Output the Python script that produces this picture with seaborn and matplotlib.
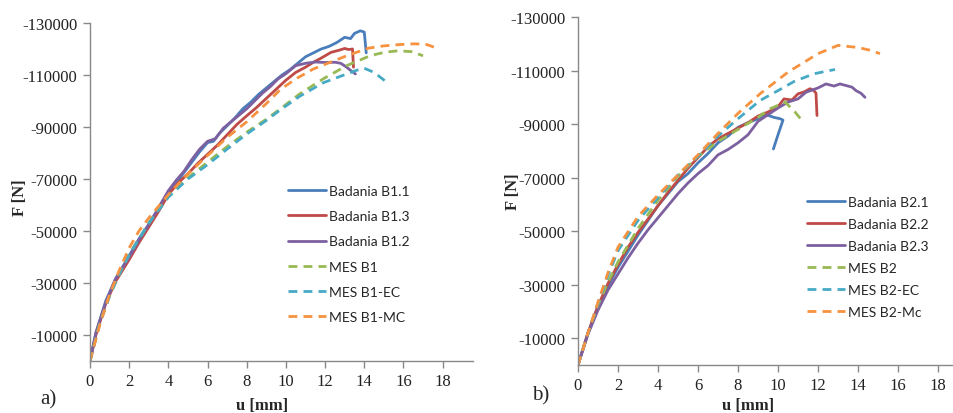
import matplotlib
matplotlib.use("Agg")
import matplotlib.pyplot as plt
import seaborn as sns

# ---- panel a) : B1 ----
b11_u = [0, 0.3, 0.8, 1.3, 2.0, 2.5, 3.0, 3.5, 4.0, 4.4, 4.8, 5.2, 5.6, 6.0, 6.3, 6.6, 7.0, 7.4, 7.8, 8.2,
         8.6, 9.0, 9.4, 9.8, 10.2, 10.6, 11.0, 11.4, 11.8, 12.2, 12.6, 13.0, 13.3, 13.5, 13.8, 14.0, 14.1]
b11_f = [0, -10500, -23000, -31500, -40500, -47000, -52500, -58500, -65000, -68500, -72500, -76500, -80500,
         -84000, -84500, -87500, -90500, -93500, -97000, -99500, -102500, -105000, -107500, -110000, -112000,
         -114500, -117000, -118500, -120000, -121000, -122500, -124500, -124000, -126000, -127000, -126500, -118500]

b13_u = [0, 0.3, 0.8, 1.3, 2.0, 2.5, 3.0, 3.5, 4.0, 4.5, 5.0, 5.5, 6.0, 6.5, 7.0, 7.5, 8.0, 8.5, 9.0, 9.5,
         10.0, 10.5, 11.0, 11.4, 11.8, 12.3, 12.7, 13.0, 13.2, 13.4, 13.45]
b13_f = [0, -10000, -22000, -30500, -39000, -45500, -51500, -57500, -64000, -68500, -72000, -76000, -79500,
         -83000, -87000, -91000, -94300, -97500, -101000, -104500, -108000, -111000, -113000, -114900, -116500,
         -118700, -119500, -120200, -119800, -120000, -113000]

b12_u = [0, 0.3, 0.8, 1.3, 2.0, 2.5, 3.0, 3.5, 4.0, 4.4, 4.8, 5.2, 5.6, 6.0, 6.4, 6.8, 7.2, 7.6, 8.0, 8.4,
         8.8, 9.2, 9.6, 10.0, 10.5, 11.0, 11.5, 12.0, 12.5, 12.8, 13.1, 13.35, 13.55]
b12_f = [0, -11000, -22500, -31500, -40000, -46500, -52500, -59000, -65500, -69500, -73000, -77500, -81500,
         -84500, -85500, -89500, -92000, -94500, -97000, -100000, -103000, -105500, -108500, -110500, -113600,
         -114500, -115000, -114800, -114900, -114500, -113000, -111500, -110400]

mes_b1_u = [0, 0.5, 1.0, 1.5, 2.0, 3.0, 4.0, 5.0, 6.0, 7.0, 8.0, 9.0, 9.7, 10.7, 11.9, 13.1, 14.3, 15.0, 15.7, 16.4, 17.0]
mes_b1_f = [0, -14500, -25000, -33500, -41000, -53000, -63500, -70500, -76500, -82500, -88000, -93000, -96900,
            -102700, -108500, -113600, -117400, -118700, -119300, -119000, -117400]

mes_b1_ec_u = [0, 0.5, 1.0, 1.5, 2.0, 3.0, 4.0, 5.0, 6.0, 7.0, 8.0, 9.0, 9.7, 10.7, 11.9, 13.1, 13.6, 14.0, 14.5, 15.05]
mes_b1_ec_f = [0, -14500, -25000, -33500, -41000, -53000, -63000, -70000, -75500, -81500, -87300, -92500, -96500,
               -101800, -107000, -110400, -111800, -112600, -111000, -107800]

mes_b1_mc_u = [0, 0.5, 1.0, 1.5, 2.0, 2.5, 3.0, 4.0, 5.0, 6.0, 7.0, 8.0, 9.0, 9.7, 10.5, 11.4, 12.3, 13.1,
               14.2, 15.0, 15.8, 16.6, 17.2, 17.6]
mes_b1_mc_f = [0, -14000, -25500, -35000, -43500, -50000, -55000, -64000, -72000, -79000, -86000, -92000, -99000,
               -104300, -108500, -112300, -115000, -117400, -120300, -121200, -121700, -122000, -121700, -120600]

# ---- panel b) : B2 ----
b21_u = [0, 0.5, 1.0, 1.5, 2.0, 2.5, 3.0, 3.5, 4.0, 4.5, 5.0, 5.5, 6.0, 6.5, 7.0, 7.5, 8.0, 8.5, 9.0, 9.4,
         9.8, 10.1, 10.25, 10.0, 9.77]
b21_f = [0, -12000, -22000, -29500, -36500, -42500, -48500, -54000, -59500, -64000, -68500, -71500, -75500,
         -79000, -83000, -85500, -88800, -90500, -92000, -93500, -92500, -92000, -91500, -86000, -80700]

b22_u = [0, 0.5, 1.0, 1.5, 2.0, 2.5, 3.0, 3.5, 4.0, 4.5, 5.0, 5.5, 6.0, 6.5, 7.0, 7.5, 8.0, 8.5, 9.0, 9.5,
         10.0, 10.3, 10.7, 11.0, 11.3, 11.6, 11.8, 11.9, 11.95]
b22_f = [0, -12000, -22000, -30500, -37500, -44000, -49500, -54500, -59500, -64500, -69000, -73500, -77500,
         -81500, -84500, -86500, -88500, -90500, -93000, -94500, -96500, -99400, -99000, -101300, -102000,
         -103200, -102500, -101500, -93200]

b23_u = [0, 0.5, 1.0, 1.5, 2.0, 2.5, 3.0, 3.5, 4.0, 4.5, 5.0, 5.5, 6.0, 6.5, 7.0, 7.5, 8.0, 8.5, 9.0, 9.5,
         10.0, 10.5, 11.0, 11.4, 12.0, 12.4, 12.8, 13.1, 13.4, 13.7, 13.9, 14.15, 14.35]
b23_f = [0, -11500, -20500, -28000, -34000, -40000, -45500, -50500, -55000, -59500, -64000, -68000, -71500,
         -74500, -78500, -80500, -83000, -86000, -91000, -93500, -96000, -98200, -99400, -101900, -103500,
         -105000, -104200, -105000, -104400, -103800, -102500, -101500, -100000]

mes_b2_u = [0, 0.5, 1.0, 1.5, 2.0, 3.0, 4.0, 5.0, 6.0, 7.0, 8.0, 9.0, 9.6, 10.35, 10.8, 11.2]
mes_b2_f = [0, -12000, -22500, -31000, -38500, -51000, -61500, -70500, -78000, -83500, -88000, -92500, -95700,
            -98200, -95000, -91300]

mes_b2_ec_u = [0, 0.5, 1.0, 1.5, 2.0, 3.0, 4.0, 5.0, 6.0, 7.0, 8.0, 9.1, 10.0, 10.8, 11.8, 12.85]
mes_b2_ec_f = [0, -12000, -23000, -33500, -42700, -54000, -62500, -71000, -78000, -85500, -92000, -98800,
               -102500, -105900, -108800, -110400]

mes_b2_mc_u = [0, 0.5, 1.0, 1.5, 2.0, 3.0, 4.0, 5.0, 6.0, 7.0, 8.0, 9.1, 10.5, 12.0, 13.0, 14.0, 14.6, 15.1]
mes_b2_mc_f = [0, -12000, -23500, -34500, -44000, -55500, -63500, -71000, -78500, -86500, -94000, -101300,
               -109400, -116300, -119400, -118600, -117600, -116300]

x_ticks = [0, 2, 4, 6, 8, 10, 12, 14, 16, 18]
y_ticks = [-10000, -30000, -50000, -70000, -90000, -110000, -130000]

colors = {"blue": "#4a7ebb", "red": "#be4b48", "purple": "#7d60a0",
          "green": "#98b954", "cyan": "#46aac5", "orange": "#f69240"}

panel_a = [
    ("Badania B1.1", b11_u, b11_f, "blue", False),
    ("Badania B1.3", b13_u, b13_f, "red", False),
    ("Badania B1.2", b12_u, b12_f, "purple", False),
    ("MES B1", mes_b1_u, mes_b1_f, "green", True),
    ("MES B1-EC", mes_b1_ec_u, mes_b1_ec_f, "cyan", True),
    ("MES B1-MC", mes_b1_mc_u, mes_b1_mc_f, "orange", True),
]
panel_b = [
    ("Badania B2.1", b21_u, b21_f, "blue", False),
    ("Badania B2.2", b22_u, b22_f, "red", False),
    ("Badania B2.3", b23_u, b23_f, "purple", False),
    ("MES B2", mes_b2_u, mes_b2_f, "green", True),
    ("MES B2-EC", mes_b2_ec_u, mes_b2_ec_f, "cyan", True),
    ("MES B2-Mc", mes_b2_mc_u, mes_b2_mc_f, "orange", True),
]

sns.set_theme(style="white")
plt.rcParams["axes.unicode_minus"] = False

fig = plt.figure(figsize=(9.54, 4.14), dpi=100)
W, H = 954, 414
# axes boxes in pixels: left, top, right, bottom
boxes = [(90, 24, 473, 362), (578, 18, 952, 366)]
xmax = [19.55, 18.7]
legend_anchor = [(288, 186), (807, 197)]
legend_spacing = [0.95, 0.72]
grey = "#898989"
serif = "Liberation Serif"

for i, (series, (l, t, r, b)) in enumerate(zip([panel_a, panel_b], boxes)):
    ax = fig.add_axes([l / W, 1 - b / H, (r - l) / W, (b - t) / H])
    for name, u, f, c, dashed in series:
        kw = {"linestyle": (0, (3.2, 2.2))} if dashed else {}
        sns.lineplot(x=u, y=f, ax=ax, color=colors[c], lw=2.0, label=name,
                     sort=False, estimator=None, **kw)
    ax.set_xlim(0, xmax[i])
    ax.set_ylim(0, -130000)
    ax.set_xticks(x_ticks)
    ax.set_xticklabels([str(v) for v in x_ticks])
    ax.set_yticks(y_ticks)
    ax.set_yticklabels([str(v) for v in y_ticks])
    for s in ["top", "right"]:
        ax.spines[s].set_visible(False)
    for s in ["left", "bottom"]:
        ax.spines[s].set_color(grey)
        ax.spines[s].set_linewidth(1.0)
    ax.tick_params(axis="both", which="major", direction="out", length=5, width=1,
                   color=grey, labelsize=12, labelcolor="#222222", pad=4)
    ax.tick_params(axis="x", bottom=True, pad=4)
    ax.tick_params(axis="y", left=True)
    for lab in ax.get_xticklabels() + ax.get_yticklabels():
        lab.set_fontfamily(serif)
    ax.set_xlabel("")
    ax.set_ylabel("")
    ax_x, ax_y = legend_anchor[i]
    ax.legend(loc="upper left", bbox_to_anchor=((ax_x - l) / (r - l), (b - ax_y) / (b - t)),
              frameon=False, borderpad=0, borderaxespad=0, handlelength=2.7,
              handletextpad=0.25, labelspacing=legend_spacing[i],
              prop={"family": "Lato", "size": 10})

# axis titles and panel letters
fig.text(20 / W, 1 - 198 / H, "F [N]", rotation=90, ha="center", va="center",
         fontsize=12, fontweight="bold", family=serif)
fig.text(513 / W, 1 - 192 / H, "F [N]", rotation=90, ha="center", va="center",
         fontsize=12, fontweight="bold", family=serif)
fig.text(262 / W, 1 - 406 / H, "u [mm]", ha="center", va="center",
         fontsize=12, fontweight="bold", family=serif)
fig.text(748 / W, 1 - 406 / H, "u [mm]", ha="center", va="center",
         fontsize=12, fontweight="bold", family=serif)
fig.text(48 / W, 1 - 400 / H, "a)", ha="center", va="center", fontsize=15, family=serif)
fig.text(541 / W, 1 - 396 / H, "b)", ha="center", va="center", fontsize=15, family=serif)

fig.savefig("out.png", dpi=100, facecolor="white")
